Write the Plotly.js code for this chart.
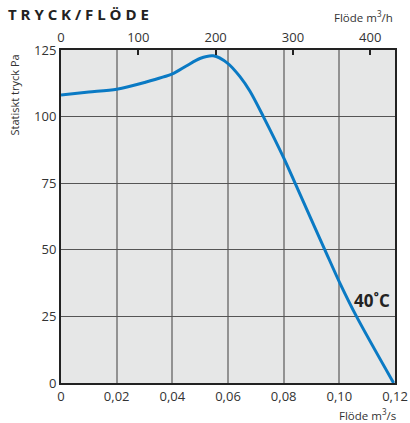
<!DOCTYPE html>
<html><head><meta charset="utf-8">
<script src="https://cdn.plot.ly/plotly-3.0.1.min.js"></script>
<style>body{margin:0;padding:0;background:#fff}#c{width:410px;height:423px}</style>
</head><body><div id="c"></div>
<script>
// Data (flow in m³/s, static pressure in Pa)
const flowM3s = [0, 0.01, 0.02, 0.03, 0.04, 0.045, 0.0499, 0.0547, 0.0599, 0.0643, 0.0679, 0.0727, 0.0801, 0.0841, 0.0948, 0.1002, 0.1062, 0.1195];
const pressurePa = [108.1, 109.2, 110.3, 112.8, 116, 119, 121.8, 122.8, 120, 115, 109.5, 100, 84.3, 75, 50, 37.5, 24.9, 0];
const xTickVals = [0, 0.02, 0.04, 0.06, 0.08, 0.10, 0.12];
const xTickText = ['0', '0,02', '0,04', '0,06', '0,08', '0,10', '0,12'];
const topTickVals = [0, 100, 200, 300, 400];
const yTickVals = [0, 25, 50, 75, 100, 125];
const curveLabel = '40˚C';

const font = 'Open Sans, Noto Sans, sans-serif';
const data = [
  {x: flowM3s, y: pressurePa, type: 'scatter', mode: 'lines',
   line: {color: '#0a7ac4', width: 3, shape: 'spline', smoothing: 0.8},
   hoverinfo: 'none', showlegend: false},
  {x: [0, 432], y: [null, null], xaxis: 'x2', type: 'scatter', mode: 'lines', showlegend: false, hoverinfo: 'none'}
];
const layout = {
  width: 410, height: 423,
  margin: {l: 61, r: 15, t: 50, b: 40},
  paper_bgcolor: '#ffffff', plot_bgcolor: '#e6e7e7',
  font: {family: font, size: 13, color: '#333'},
  xaxis: {range: [0, 0.12], tickvals: xTickVals, ticktext: xTickText,
    showgrid: true, gridcolor: '#929292', gridwidth: 2, zeroline: false,
    showline: true, linecolor: '#222', linewidth: 2, mirror: true,
    ticks: '', tickfont: {size: 13, color: '#333'}, fixedrange: true},
  xaxis2: {range: [0, 432], overlaying: 'x', side: 'top', tickvals: topTickVals,
    showgrid: false, zeroline: false, showline: false,
    ticks: 'inside', ticklen: 5, tickwidth: 2, tickcolor: '#222', ticklabelstandoff: 4,
    tickfont: {size: 13, color: '#333'}, fixedrange: true},
  yaxis: {range: [0, 125], tickvals: yTickVals,
    showgrid: true, gridcolor: '#555', gridwidth: 1, zeroline: false,
    showline: true, linecolor: '#222', linewidth: 2, mirror: true,
    ticks: '', tickfont: {size: 13, color: '#333'}, fixedrange: true},
  annotations: [
    {text: '<b>T R Y C K / F L Ö D E</b>', xref: 'paper', yref: 'paper', x: -55/334, y: 1 + 36/333,
     xanchor: 'left', yanchor: 'middle', showarrow: false, font: {family: font, size: 15, color: '#222'}},
    {text: 'Flöde m<sup>3</sup>/h', xref: 'paper', yref: 'paper', x: 1, y: 1 + 33/333,
     xanchor: 'right', yanchor: 'middle', showarrow: false, font: {family: font, size: 11.5, color: '#333'}},
    {text: 'Flöde m<sup>3</sup>/s', xref: 'paper', yref: 'paper', x: 1 + 3/334, y: -31/333,
     xanchor: 'right', yanchor: 'middle', showarrow: false, font: {family: font, size: 11.5, color: '#333'}},
    {text: 'Statiskt tryck Pa', xref: 'paper', yref: 'paper', x: -47/334, y: 1 - 3/333,
     xanchor: 'center', yanchor: 'top', textangle: -90, showarrow: false, font: {family: font, size: 11, color: '#333'}},
    {text: '<b>' + curveLabel + '</b>', xref: 'x', yref: 'y', x: 0.1117, y: 31,
     xanchor: 'center', yanchor: 'middle', showarrow: false, font: {family: font, size: 17, color: '#222'}}
  ]
};
Plotly.newPlot('c', data, layout, {staticPlot: true, displayModeBar: false});
</script></body></html>
